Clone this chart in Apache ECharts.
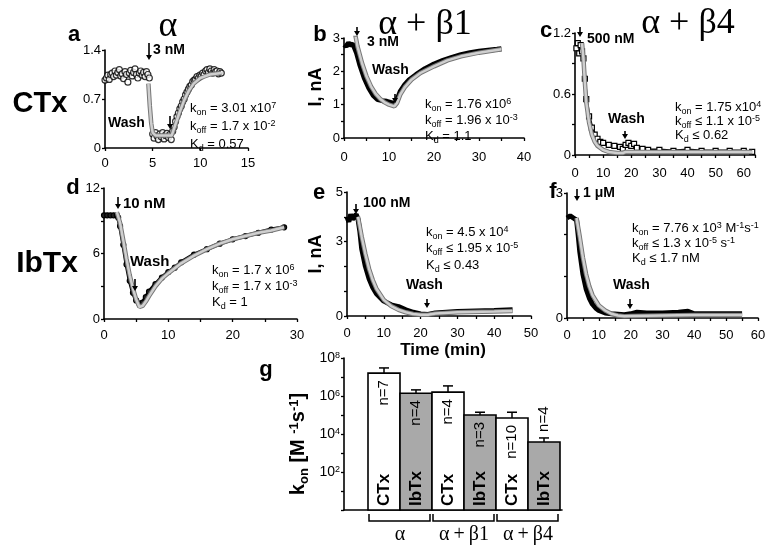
<!DOCTYPE html>
<html><head><meta charset="utf-8">
<script src="https://cdn.jsdelivr.net/npm/echarts@6/dist/echarts.min.js"></script>
<style>html,body{margin:0;padding:0;background:#fff}#c{width:781px;height:554px}</style>
</head><body><div id="c"></div>
<script>
// ---------- DATA ----------
// panel a (CTx, alpha): observed points and fit, [time min, normalized I]
const aObs = [[0.0,0.97],[0.15,1.0],[0.3,1.04],[0.45,0.98],[0.6,1.05],[0.75,1.07],[0.9,1.02],[1.05,1.1],[1.2,1.04],[1.35,1.08],[1.5,1.12],[1.65,1.03],[1.8,1.06],[1.95,0.99],[2.1,1.09],[2.25,1.05],[2.4,0.94],[2.55,1.07],[2.7,1.11],[2.85,1.03],[3.0,1.08],[3.15,1.13],[3.3,1.05],[3.45,1.0],[3.6,1.07],[3.75,1.1],[3.9,1.04],[4.05,1.08],[4.2,1.02],[4.35,1.09],[4.5,1.05],[4.65,1.0],
[5.0,0.2],[5.15,0.14],[5.3,0.22],[5.45,0.17],[5.6,0.12],[5.75,0.2],[5.9,0.16],[6.05,0.22],[6.2,0.13],[6.35,0.18],[6.5,0.21],[6.65,0.15],[6.8,0.19],[6.95,0.12],[7.1,0.24],[7.25,0.3],[7.4,0.38],[7.55,0.45],[7.7,0.5],[7.85,0.56],[8.0,0.6],[8.15,0.66],[8.3,0.7],[8.45,0.76],[8.6,0.8],[8.75,0.84],[8.9,0.88],[9.05,0.9],[9.2,0.95],[9.35,0.97],[9.5,0.98],[9.65,1.02],[9.8,1.0],[9.95,1.04],[10.1,1.03],[10.25,1.07],[10.4,1.05],[10.55,1.1],[10.7,1.12],[10.85,1.08],[11.0,1.13],[11.15,1.1],[11.3,1.07],[11.45,1.12],[11.6,1.09],[11.75,1.1],[11.9,1.06],[12.05,1.09],[12.2,1.07]];
const aFit = [[4.55,0.92],[4.7,0.6],[4.85,0.35],[5.0,0.22],[5.3,0.18],[7.0,0.18],[7.3,0.3],[7.8,0.5],[8.3,0.68],[8.8,0.82],[9.3,0.92],[10,1.0],[11,1.05],[12.2,1.07]];
// panel b (CTx, alpha+beta1), [min, nA]
const bObs = [[0,2.8],[0.5,2.75],[1,2.85],[1.5,2.78],[2,2.82],[2.4,2.8],[2.8,2.55],[3.5,2.2],[4.5,1.8],[5.5,1.5],[6.5,1.28],[7.5,1.15],[8.5,1.12],[9.5,1.1],[10.5,1.06],[11.2,1.02],[11.8,1.15],[12.5,1.4],[13.5,1.6],[14.5,1.75],[16,1.9],[18,2.08],[20,2.22],[22,2.33],[24,2.42],[26,2.5],[28,2.56],[30,2.6],[32,2.63],[34,2.66],[35,2.68]];
const bFit = [[2.5,3.1],[3,2.75],[4,2.25],[5,1.85],[6,1.55],[7,1.33],[8,1.18],[9,1.07],[10,1.0],[11.2,0.95],[11.8,1.05],[12.5,1.3],[13.5,1.52],[15,1.75],[17,1.95],[20,2.15],[23,2.33],[26,2.45],[30,2.56],[35,2.66]];
// panel c (CTx, alpha+beta4)
const cObs = [[0.5,1.05],[1,1.1],[1.5,1.0],[2,1.08],[2.5,1.02],[3,0.95],[3.5,0.75],[4,0.55],[5,0.38],[6,0.27],[7,0.2],[8,0.16],[9,0.13],[10,0.12],[12,0.1],[14,0.09],[16,0.08],[17,0.06],[18,0.1],[19,0.12],[20,0.09],[21,0.11],[22,0.07],[24,0.06],[26,0.05],[30,0.05],[35,0.04],[40,0.05],[45,0.04],[50,0.04],[55,0.04],[60,0.04],[63,0.03]];
const cFit = [[2.5,1.1],[3,0.95],[3.5,0.72],[4,0.52],[5,0.32],[6,0.2],[7,0.13],[8,0.09],[10,0.05],[12,0.03],[15,0.02],[17,0.02],[18,0.03],[25,0.03],[40,0.03],[63,0.03]];
// panel d (IbTx, alpha)
const dObs = [[0,9.5],[0.5,9.5],[1,9.5],[1.5,9.5],[2,9.5],[2.2,9.3],[2.5,8.5],[3,6.8],[3.5,5.0],[4,3.5],[4.5,2.4],[5,1.7],[5.5,1.4],[6,1.5],[6.5,2.0],[7,2.5],[8,3.2],[9,3.8],[10,4.3],[11,4.7],[12,5.2],[14,5.9],[16,6.4],[18,6.9],[20,7.3],[22,7.6],[24,7.9],[26,8.2],[28,8.4]];
const dFit = [[2,9.8],[2.5,8.8],[3,7.2],[3.5,5.5],[4,4.0],[4.5,2.8],[5,1.8],[5.5,1.1],[6,1.2],[6.5,1.6],[7,2.1],[8,3.0],[9,3.7],[10,4.2],[12,5.1],[14,5.8],[16,6.4],[18,6.9],[20,7.3],[22,7.6],[24,7.9],[26,8.1],[28,8.4]];
// panel e (IbTx, alpha+beta1)
const eObs = [[0,4.0],[0.5,3.8],[1,4.1],[1.5,3.9],[2,4.0],[2.5,4.1],[3,3.9],[3.5,3.4],[4,2.7],[5,2.0],[6,1.5],[7,1.15],[8,0.9],[10,0.6],[12,0.45],[14,0.38],[16,0.25],[18,0.15],[20,0.08],[22,0.06],[24,0.12],[27,0.15],[30,0.18],[35,0.2],[40,0.22],[45,0.25]];
const eFit = [[3,4.0],[4,3.2],[5,2.5],[6,1.9],[7,1.45],[8,1.1],[10,0.65],[12,0.4],[14,0.25],[16,0.15],[18,0.08],[20,0.05],[22,0.05],[24,0.1],[30,0.15],[40,0.18],[45,0.2]];
// panel f (IbTx, alpha+beta4)
const fObs = [[0,2.4],[1,2.45],[2,2.4],[3,2.35],[3.5,2.0],[4,1.6],[5,1.05],[6,0.7],[7,0.48],[8,0.33],[9,0.24],[10,0.18],[12,0.12],[14,0.1],[16,0.09],[18,0.08],[20,0.1],[22,0.14],[25,0.12],[30,0.12],[35,0.14],[38,0.16],[40,0.1],[45,0.1],[50,0.1],[55,0.1]];
const fFit = [[3,2.4],[4,1.95],[5,1.45],[6,1.05],[7,0.76],[8,0.55],[10,0.3],[12,0.18],[14,0.1],[16,0.06],[18,0.04],[20,0.05],[30,0.06],[40,0.07],[55,0.07]];
// panel g (k_on summary)
const barToxin = ['CTx','IbTx','CTx','IbTx','CTx','IbTx'];
const barKon = [1.6e7, 1.4e6, 1.6e6, 1.0e5, 7.0e4, 3.8e3];
const barErrTop = [3.0e7, 2.1e6, 3.4e6, 1.4e5, 1.4e5, 6.2e3];
const barN = ['n=7','n=4','n=4','n=3','n=10','n=4'];
const groupNames = ['α\u2009+\u2009β1'.slice(0,1),'α\u2009+\u2009β1','α\u2009+\u2009β4'];
// text annotations
const konText = {
  a: ['k_{on} = 3.01 x10^{7}','k_{off} = 1.7 x 10^{-2}','K_{d} = 0.57'],
  b: ['k_{on} = 1.76 x10^{6}','k_{off} = 1.96 x 10^{-3}','K_{d} = 1.1'],
  c: ['k_{on} = 1.75 x10^{4}','k_{off} ≤ 1.1 x 10^{-5}','K_{d} ≤ 0.62'],
  d: ['k_{on} = 1.7 x 10^{6}','k_{off} = 1.7 x 10^{-3}','K_{d} = 1'],
  e: ['k_{on} = 4.5 x 10^{4}','k_{off} ≤ 1.95 x 10^{-5}','K_{d} ≤ 0.43'],
  f: ['k_{on} = 7.76 x 10^{3} M^{-1}s^{-1}','k_{off} ≤ 1.3 x 10^{-5} s^{-1}','K_{d} ≤ 1.7 nM']
};

// ---------- HELPERS ----------
const SANS = '"Liberation Sans", Arial, sans-serif';
const SERIF = '"Liberation Serif", "Times New Roman", serif';
function rich(s){
  return s.split(/(_\{[^}]*\}|\^\{[^}]*\})/).filter(x=>x.length).map(t=>{
    if (t[0]==='_') return '{b|'+t.slice(2,-1)+'}';
    if (t[0]==='^') return '{p|'+t.slice(2,-1)+'}';
    return '{m|'+t+'}';
  }).join('');
}
function richStyle(fs, bold){
  const w = bold ? 'bold' : 'normal';
  const sm = Math.round(fs*0.66);
  return {
    m:{fontSize:fs, lineHeight:fs, fontWeight:w, fontFamily:SANS, verticalAlign:'top', fill:'#000'},
    b:{fontSize:sm, lineHeight:sm, fontWeight:w, fontFamily:SANS, padding:[Math.round(fs*0.5),0,0,0], verticalAlign:'top', fill:'#000'},
    p:{fontSize:sm, lineHeight:sm, fontWeight:w, fontFamily:SANS, verticalAlign:'top', fill:'#000'}
  };
}
const gfx = [];
function txt(x, y, s, font, opt){
  opt = opt || {};
  gfx.push({type:'text', x:x, y:y, rotation:opt.rot||0, z:10,
    style:{text:s, font:font, fill:'#000', align:opt.align||'left', verticalAlign:opt.va||'middle'}});
}
function richTxt(x, y, s, fs, bold, opt){
  opt = opt || {};
  gfx.push({type:'text', x:x, y:y, rotation:opt.rot||0, z:10,
    style:{text:rich(s), rich:richStyle(fs,bold), align:opt.align||'left', verticalAlign:opt.va||'middle'}});
}
function arrow(x, y1, y2){
  gfx.push({type:'line', z:10, shape:{x1:x,y1:y1,x2:x,y2:y2-4}, style:{stroke:'#000', lineWidth:1.6}});
  gfx.push({type:'polygon', z:10, shape:{points:[[x-3,y2-5],[x+3,y2-5],[x,y2]]}, style:{fill:'#000'}});
}
function konBlock(x, ys, lines){ lines.forEach((l,i)=>richTxt(x, ys[i], l, 13, false)); }

// ---------- ANNOTATIONS ----------
txt(168, 27, 'α', '36px '+SERIF, {align:'center'});
txt(425, 25, 'α + β1', '36px '+SERIF, {align:'center'});
txt(688, 24, 'α + β4', '36px '+SERIF, {align:'center'});
const LET = 'bold 22px '+SANS;
txt(74, 35, 'a', LET, {align:'center'});
txt(320, 35, 'b', LET, {align:'center'});
txt(546, 31, 'c', LET, {align:'center'});
txt(73, 188, 'd', LET, {align:'center'});
txt(319, 193, 'e', LET, {align:'center'});
txt(553, 192, 'f', LET, {align:'center'});
txt(266, 370, 'g', LET, {align:'center'});
txt(40, 104, 'CTx', 'bold 29px '+SANS, {align:'center'});
txt(47, 264, 'IbTx', 'bold 30px '+SANS, {align:'center'});
txt(316, 87, 'I, nA', 'bold 18px '+SANS, {align:'center', rot:Math.PI/2});
txt(316, 254, 'I, nA', 'bold 18px '+SANS, {align:'center', rot:Math.PI/2});
txt(443, 350, 'Time (min)', 'bold 17px '+SANS, {align:'center'});
richTxt(298, 444, 'k_{on} [M ^{-1}s^{-1}]', 20, true, {align:'center', rot:Math.PI/2});
const WB = 'bold 14px '+SANS, WB2 = 'bold 15px '+SANS;
txt(153, 50, '3 nM', WB); arrow(149, 43, 60);
txt(108, 123, 'Wash', WB); arrow(170, 116, 129);
txt(367, 42, '3 nM', WB); arrow(357, 27, 36);
txt(372, 70, 'Wash', WB); arrow(395, 94, 103);
txt(587, 39, '500 nM', WB); arrow(580, 27, 37);
txt(608, 119, 'Wash', WB); arrow(625, 131, 139);
txt(123, 204, '10 nM', WB2); arrow(118, 197, 209);
txt(130, 262, 'Wash', WB2); arrow(135, 279, 291);
txt(363, 203, '100 nM', WB); arrow(356, 204, 214);
txt(406, 285, 'Wash', WB); arrow(427, 299, 308);
txt(583, 193, '1 μM', WB); arrow(577, 189, 201);
txt(613, 285, 'Wash', WB); arrow(630, 299, 309);
konBlock(190, [108,126,144], konText.a);
konBlock(425, [104,120,136], konText.b);
konBlock(675, [107,121,135], konText.c);
konBlock(212, [270,286,302], konText.d);
konBlock(426, [232,248,265], konText.e);
konBlock(632, [228,243,258], konText.f);

// ---------- AXES ----------
const grids = [
  {left:105, top:50, width:143, height:98},
  {left:344, top:38, width:180, height:100},
  {left:575, top:33, width:180, height:122},
  {left:104, top:188, width:193, height:131},
  {left:347, top:192, width:184, height:124},
  {left:567, top:193, width:191, height:125},
  {left:344, top:358, width:218, height:152}
];
const AL = {lineStyle:{color:'#000', width:1.6}};
const AT = {length:3, lineStyle:{color:'#000', width:1.3}};
const LBL = {color:'#000', fontSize:13, fontFamily:SANS, margin:4};
function xa(i, max, interval, every, offset){
  return {type:'value', gridIndex:i, min:0, max:max, interval:interval, offset:offset,
    axisLine:AL, axisTick:AT, splitLine:{show:false},
    axisLabel:Object.assign({}, LBL, {showMaxLabel:true, formatter:v=>(Math.abs(v/every-Math.round(v/every))<1e-6 && v<=max)?String(v):''})};
}
function ya(i, max, interval, shown){
  return {type:'value', gridIndex:i, min:0, max:max, interval:interval,
    axisLine:AL, axisTick:AT, splitLine:{show:false},
    axisLabel:Object.assign({}, LBL, {formatter:v=>{const r=Math.round(v*100)/100; return shown.indexOf(r)>=0?String(r):'';}})};
}
const xAxes = [
  xa(0, 15, 5, 5, 5),
  xa(1, 40, 5, 10, 9),
  xa(2, 64, 5, 10, 8),
  xa(3, 30, 5, 10, 6),
  xa(4, 50, 5, 10, 7),
  xa(5, 60, 5, 10, 7),
  {type:'value', gridIndex:6, min:0, max:6.8125, axisLine:AL, axisTick:{show:false}, axisLabel:{show:false}, splitLine:{show:false}}
];
const yAxes = [
  ya(0, 1.4, 0.7, [0,0.7,1.4]),
  ya(1, 3, 0.5, [0,1,2,3]),
  ya(2, 1.2, 0.3, [0,0.6,1.2]),
  ya(3, 12, 3, [0,6,12]),
  ya(4, 5, 1, [0,3,5]),
  ya(5, 3, 1, [0,3]),
  {type:'log', gridIndex:6, logBase:10, min:1, max:1e8, axisLine:AL, axisTick:AT, splitLine:{show:false},
   axisLabel:{margin:4, formatter:v=>{const e=Math.round(Math.log10(v)); return (e>0 && e%2===0)?('{m|10}{p|'+e+'}'):'';},
     rich:{m:{fontSize:14, lineHeight:14, fontFamily:SANS, color:'#000', verticalAlign:'top'}, p:{fontSize:9, lineHeight:9, fontFamily:SANS, color:'#000', verticalAlign:'top'}}}}
];

// ---------- SERIES ----------
const series = [];
function obs(i, pts, w, sym, symSize, fill){
  series.push({type:'line', xAxisIndex:i, yAxisIndex:i, data:pts, z:2, silent:true,
    showSymbol:!!sym, symbol:sym||'none', symbolSize:symSize||0,
    itemStyle:{color:fill||'#000', borderColor:'#000', borderWidth:1.2},
    lineStyle:{color:'#000', width:w}});
}
function fit(i, pts){
  series.push({type:'line', xAxisIndex:i, yAxisIndex:i, data:pts, z:3, silent:true, showSymbol:false, lineStyle:{color:'#777', width:4.5}});
  series.push({type:'line', xAxisIndex:i, yAxisIndex:i, data:pts, z:4, silent:true, showSymbol:false, lineStyle:{color:'#cfcfcf', width:2.5}});
}
series.push({type:'scatter', xAxisIndex:0, yAxisIndex:0, data:aObs, z:2, symbol:'circle', symbolSize:6, itemStyle:{color:'#fff', borderColor:'#000', borderWidth:1.2}});
fit(0, aFit);
obs(1, bObs, 5);
fit(1, bFit);
obs(2, cObs, 3, 'rect', 5, '#fff');
fit(2, cFit);
obs(3, dObs, 4, 'circle', 5, '#222');
fit(3, dFit);
obs(4, eObs, 5);
fit(4, eFit);
obs(5, fObs, 5);
fit(5, fFit);

const barData = barKon.map((v,i)=>[i+1.25, v, barErrTop[i]]);
series.push({type:'custom', xAxisIndex:6, yAxisIndex:6, data:barData, encode:{x:0, y:1}, z:5, silent:true, clip:false,
  renderItem:function(params, api){
    const i = params.dataIndex;
    const x = api.value(0);
    const base = api.coord([x, 1]);
    const top = api.coord([x, api.value(1)]);
    const err = api.coord([x, api.value(2)]);
    const l = api.coord([x-0.5, 1])[0], r = api.coord([x+0.5, 1])[0];
    const cx = (l+r)/2;
    const isIb = barToxin[i]==='IbTx';
    const ch = [];
    ch.push({type:'line', shape:{x1:cx, y1:top[1], x2:cx, y2:err[1]}, style:{stroke:'#000', lineWidth:1.5}});
    ch.push({type:'line', shape:{x1:cx-5, y1:err[1], x2:cx+5, y2:err[1]}, style:{stroke:'#000', lineWidth:1.5}});
    ch.push({type:'rect', shape:{x:l, y:top[1], width:r-l, height:base[1]-top[1]}, style:{fill:isIb?'#a9a9a9':'#fff', stroke:'#000', lineWidth:1.6}});
    ch.push({type:'text', x:cx, y:base[1]-4, rotation:Math.PI/2, style:{text:barToxin[i], font:'bold 17px '+SANS, fill:'#000', align:'left', verticalAlign:'middle'}});
    const room = (base[1]-4-40) - (top[1]+7+32);
    if (room > 0) {
      ch.push({type:'text', x:cx, y:top[1]+7, rotation:Math.PI/2, style:{text:barN[i], font:'15px '+SANS, fill:'#000', align:'right', verticalAlign:'middle'}});
    } else {
      ch.push({type:'text', x:cx, y:err[1]-6, rotation:Math.PI/2, style:{text:barN[i], font:'15px '+SANS, fill:'#000', align:'left', verticalAlign:'middle'}});
    }
    if (i % 2 === 0) {
      const r2 = api.coord([x+1.5, 1])[0];
      const yb = base[1];
      ch.push({type:'polyline', shape:{points:[[l+1, yb+4],[l+1, yb+11],[r2-2, yb+11],[r2-2, yb+4]]}, style:{stroke:'#000', lineWidth:1.5, fill:null}});
      ch.push({type:'text', x:(l+r2)/2, y:yb+25, style:{text:groupNames[i/2], font:'20px '+SERIF, fill:'#000', align:'center', verticalAlign:'middle'}});
    }
    return {type:'group', children:ch};
  }
});

const chart = echarts.init(document.getElementById('c'), null, {renderer:'canvas'});
chart.setOption({
  animation:false,
  backgroundColor:'#fff',
  textStyle:{fontFamily:SANS},
  grid:grids,
  xAxis:xAxes,
  yAxis:yAxes,
  series:series,
  graphic:gfx
});
</script></body></html>
